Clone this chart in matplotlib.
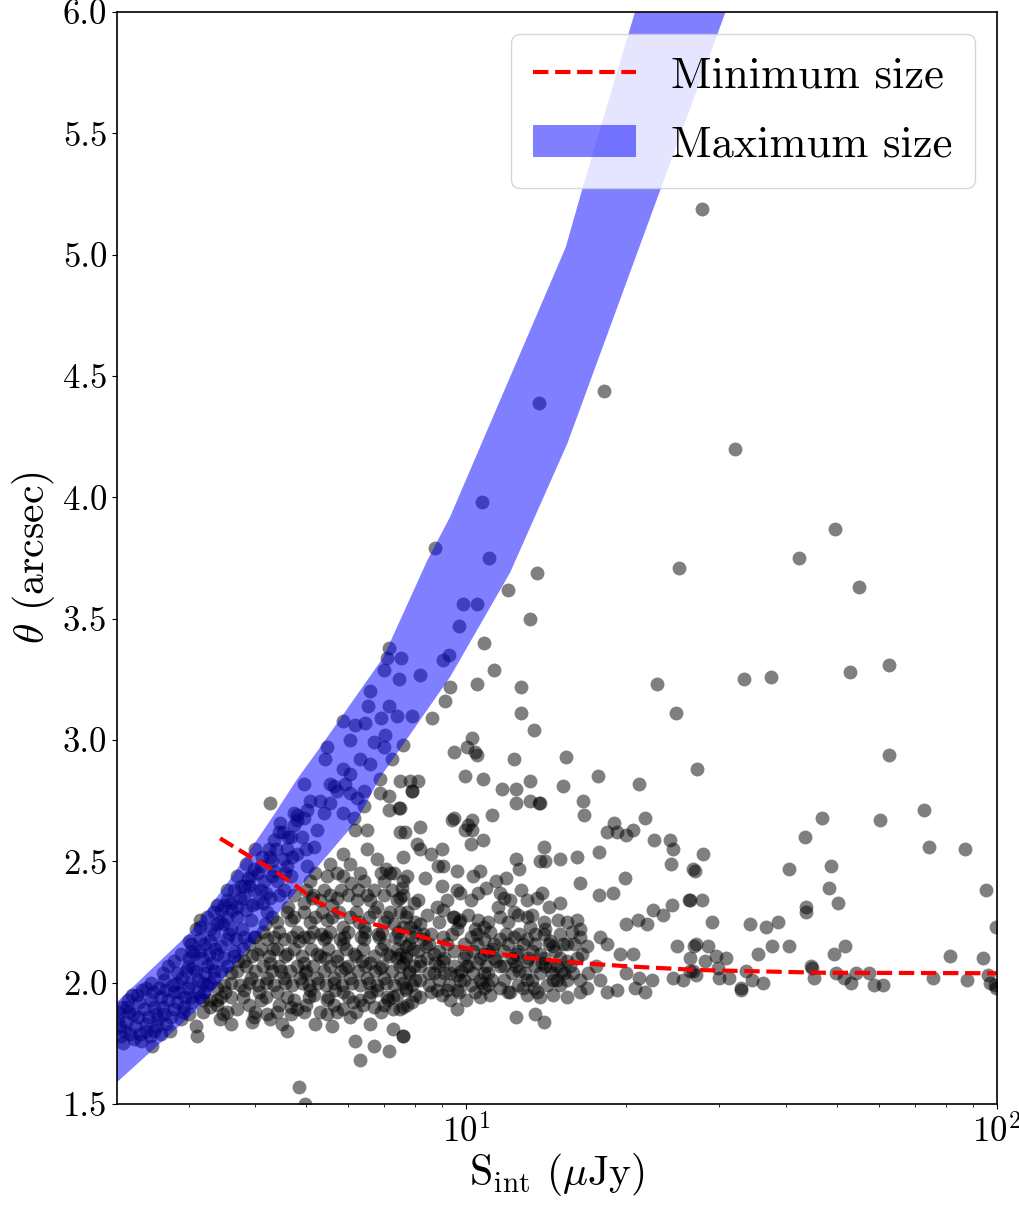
import numpy as np
import matplotlib
matplotlib.use('Agg')
import matplotlib.pyplot as plt
from matplotlib.ticker import NullFormatter, FormatStrFormatter

plt.rcParams['font.family'] = ['cmr10', 'DejaVu Serif']
plt.rcParams['mathtext.fontset'] = 'cm'
plt.rcParams['axes.formatter.use_mathtext'] = True

# sources: (S_int [uJy], theta [arcsec])
pts_sparse = [
    (27.8, 5.19), (18.2, 4.44), (13.7, 4.39), (32.1, 4.20), (10.7, 3.98), (49.5, 3.87),
    (8.72, 3.79), (11.06, 3.75), (13.6, 3.69), (25.2, 3.71), (42.4, 3.75), (54.9, 3.63),
    (9.88, 3.56), (10.5, 3.56), (12.0, 3.62), (9.71, 3.47), (13.2, 3.50), (10.8, 3.40),
    (11.3, 3.29), (10.5, 3.23), (12.7, 3.22), (22.9, 3.23), (33.3, 3.25), (37.5, 3.26),
    (52.8, 3.28), (62.7, 3.31), (12.7, 3.11), (24.9, 3.11), (13.4, 3.04), (10.5, 2.94),
    (10.4, 2.95), (12.3, 2.92), (15.4, 2.93), (27.2, 2.88), (62.7, 2.94), (10.75, 2.84),
    (13.2, 2.83), (15.2, 2.81), (17.7, 2.85), (21.2, 2.82), (11.7, 2.80), (12.4, 2.80),
    (72.8, 2.71), (46.9, 2.68), (60.3, 2.67), (43.4, 2.60), (74.6, 2.56), (87.1, 2.55),
    (27.9, 2.53), (26.7, 2.47), (27.0, 2.46), (40.6, 2.47), (48.7, 2.48), (95.2, 2.38),
    (48.3, 2.39), (50.1, 2.33), (26.4, 2.34), (27.8, 2.34), (43.7, 2.31), (43.6, 2.29),
    (29.0, 2.25), (34.3, 2.24), (36.7, 2.23), (38.6, 2.25), (99.5, 2.23), (27.1, 2.16),
    (28.5, 2.15), (35.4, 2.12), (37.6, 2.15), (40.6, 2.15), (49.4, 2.12), (51.8, 2.15),
    (81.6, 2.11), (94.0, 2.10), (26.4, 2.10), (28.2, 2.09), (29.6, 2.11), (30.8, 2.10),
    (26.4, 2.05), (27.1, 2.03), (29.8, 2.06), (29.9, 2.02), (31.3, 2.02), (33.7, 2.05),
    (34.6, 2.01), (32.9, 1.98), (33.0, 1.97), (36.2, 2.00), (44.6, 2.07), (44.8, 2.06),
    (45.2, 2.02), (49.7, 2.04), (51.4, 2.02), (53.0, 2.00), (54.2, 2.04), (57.4, 2.04),
    (58.7, 1.99), (61.0, 1.99), (75.6, 2.02), (87.9, 2.01), (96.3, 2.03), (97.0, 2.00),
    (99.5, 1.98), (99.0, 1.99),
]

pts_mid = [
    (7.84, 2.83), (8.1, 2.83), (7.9, 2.79), (12.4, 2.74), (13.2, 2.75), (13.7, 2.74),
    (13.8, 2.74), (16.6, 2.75), (16.7, 2.69), (11.2, 2.69), (9.4, 2.67), (7.51, 2.72),
    (8.19, 2.64), (10.1, 2.65), (10.25, 2.63), (9.96, 2.63), (7.68, 2.62), (19.0, 2.66),
    (20.6, 2.63), (21.7, 2.68), (18.4, 2.62), (19.2, 2.62), (20.0, 2.61), (22.6, 2.59),
    (24.2, 2.59), (24.5, 2.55), (10.2, 2.57), (10.75, 2.59), (8.08, 2.57), (8.19, 2.55),
    (9.0, 2.55), (8.6, 2.53), (14.0, 2.56), (17.8, 2.54), (16.2, 2.52), (15.0, 2.51),
    (13.8, 2.50), (14.1, 2.50), (12.4, 2.51), (12.6, 2.47), (10.6, 2.46), (9.6, 2.46),
    (9.05, 2.48), (8.85, 2.48), (7.73, 2.44), (8.37, 2.43), (24.3, 2.49), (19.9, 2.43),
    (16.4, 2.41), (17.8, 2.36), (18.9, 2.37), (12.7, 2.38), (11.4, 2.42), (11.9, 2.43),
    (10.9, 2.39), (9.6, 2.38), (9.74, 2.37), (10.55, 2.37), (11.6, 2.37), (13.9, 2.37),
    (13.6, 2.35), (24.4, 2.32), (26.3, 2.34), (22.5, 2.30), (23.5, 2.28), (21.9, 2.24),
    (21.1, 2.26), (20.0, 2.24), (15.0, 2.33), (14.3, 2.31), (14.9, 2.26), (16.2, 2.26),
    (16.4, 2.22), (14.1, 2.22), (13.3, 2.28), (13.0, 2.27), (12.3, 2.29), (12.5, 2.28),
    (11.6, 2.27), (10.55, 2.26), (10.8, 2.23), (11.1, 2.21), (10.1, 2.28), (9.46, 2.27),
    (9.05, 2.30), (8.8, 2.31), (8.44, 2.28), (7.96, 2.33), (7.51, 2.35), (7.51, 2.29),
    (8.19, 2.24), (9.6, 1.89), (12.4, 1.86), (13.5, 1.87), (14.0, 1.84), (7.6, 1.78),
    (7.51, 1.89), (7.9, 1.92), (17.86, 2.19), (18.4, 2.16), (18.4, 1.96), (19.2, 1.97),
    (21.7, 1.96), (20.8, 1.98), (20.0, 2.04), (21.2, 2.02), (22.4, 2.01), (24.5, 2.02),
    (25.6, 2.01), (26.7, 2.05), (25.0, 2.15), (26.9, 2.15), (19.5, 2.12), (20.6, 2.12),
    (7.97, 2.07), (8.19, 2.09), (8.7, 2.12), (9.33, 2.04), (9.6, 2.03), (9.74, 2.01),
    (10.0, 2.07), (10.5, 2.08), (11.2, 2.01), (11.6, 2.07), (12.1, 1.96), (12.6, 2.05),
    (13.0, 2.01), (13.4, 1.98), (13.8, 2.04), (14.1, 2.07), (14.8, 2.01), (15.5, 2.09),
    (15.9, 2.04), (16.4, 2.01), (16.9, 1.98), (8.8, 1.97), (8.19, 2.01), (7.7, 1.98),
    (7.6, 1.90), (9.05, 2.19), (9.6, 2.22), (10.2, 2.19), (10.8, 2.18), (11.6, 2.18),
    (12.3, 2.19), (13.0, 2.18), (13.8, 2.12), (14.6, 2.15), (15.5, 2.16), (16.4, 2.19),
    (16.9, 2.15), (8.4, 2.15), (7.7, 2.15), (7.5, 2.12), (10.8, 1.98), (9.6, 1.97),
    (10.0, 1.93), (9.33, 1.93), (8.2, 1.94), (13.8, 1.94), (15.5, 1.94), (10.6, 1.94),
    (11.6, 1.98), (11.4, 2.09), (12.3, 2.09), (13.0, 2.09), (8.7, 2.04), (10.8, 2.04),
    (9.05, 2.09), (10.0, 2.12), (10.8, 2.12), (7.84, 2.23), (8.3, 2.20), (9.74, 2.26),
    (14.0, 2.20), (14.8, 2.07), (17.6, 2.07), (17.9, 2.01), (16.4, 1.96),
    # densest part, 8-17 uJy
    (7.8, 2.16), (8.5, 2.16), (9.2, 2.16), (9.9, 2.16), (10.5, 2.16), (11.3, 2.16),
    (12.0, 2.16), (12.8, 2.16), (13.5, 2.16), (14.3, 2.16), (15.2, 2.16), (16.0, 2.16),
    (7.7, 2.10), (8.45, 2.10), (9.1, 2.10), (9.9, 2.10), (10.6, 2.10), (11.3, 2.10),
    (12.2, 2.10), (13.1, 2.10), (14.0, 2.10), (15.0, 2.10), (16.2, 2.10),
    (7.8, 2.04), (8.5, 2.04), (9.1, 2.04), (10.3, 2.04), (11.0, 2.04), (12.2, 2.04),
    (12.9, 2.04), (14.5, 2.04), (15.3, 2.04), (17.0, 2.04),
    (7.9, 1.99), (8.5, 1.99), (9.3, 1.99), (10.2, 1.99), (11.0, 1.99), (12.5, 1.99),
    (14.2, 1.99), (15.0, 1.99), (7.4, 1.95), (8.0, 1.95), (9.0, 1.95), (11.1, 1.95),
    (13.0, 1.95), (14.6, 1.95), (8.0, 2.25), (8.9, 2.25), (9.7, 2.25), (11.0, 2.25),
    (12.0, 2.25), (14.0, 2.25), (15.5, 2.25), (8.1, 2.34), (9.2, 2.34), (10.2, 2.34),
    (12.1, 2.34), (13.0, 2.34),
    (8.6, 2.20), (9.4, 2.20), (10.5, 2.20), (11.9, 2.20), (12.6, 2.20), (13.5, 2.20),
    (15.0, 2.20), (8.1, 2.13), (8.9, 2.13), (9.5, 2.13), (10.3, 2.13), (11.0, 2.13),
    (11.8, 2.13), (12.5, 2.13), (13.3, 2.13), (14.7, 2.13), (8.2, 2.07), (8.9, 2.07),
    (9.5, 2.07), (10.1, 2.07), (10.9, 2.07), (11.8, 2.07), (12.4, 2.07), (13.5, 2.07),
    (14.4, 2.07), (15.7, 2.07), (8.0, 2.01), (8.9, 2.01), (9.9, 2.01), (10.6, 2.01),
    (11.8, 2.01), (13.3, 2.01), (14.6, 2.01), (15.5, 2.01), (8.6, 1.96), (9.7, 1.96),
    (10.4, 1.96), (12.0, 1.96), (13.6, 1.96),
    (8.3, 2.18), (8.75, 2.08), (9.2, 1.97), (9.5, 2.27), (9.8, 2.05), (10.4, 2.22),
    (10.7, 2.00), (11.2, 2.14), (11.5, 2.31), (12.4, 2.12), (12.8, 1.98), (13.2, 2.23),
    (13.9, 2.08), (14.4, 2.17), (15.1, 2.05), (15.8, 2.21), (16.5, 2.12), (9.0, 2.40),
    (10.3, 2.44), (11.8, 2.35),
]

pts_core = [
    (6.18, 2.63), (6.50, 2.63), (6.50, 2.55), (6.79, 2.51), (7.51, 2.62), (7.62, 2.52),
    (7.19, 2.45), (5.87, 2.53), (6.05, 2.49), (5.55, 2.49), (5.09, 2.42), (5.47, 2.44),
    (5.87, 2.44), (6.41, 2.42), (6.99, 2.42), (7.62, 2.42), (4.94, 2.33), (5.31, 2.34),
    (5.71, 2.35), (6.23, 2.34), (6.79, 2.31), (7.40, 2.34), (4.40, 2.25), (4.67, 2.26),
    (5.09, 2.25), (5.47, 2.26), (5.87, 2.23), (6.41, 2.23), (6.99, 2.25), (7.62, 2.23),
    (4.22, 2.18), (4.53, 2.18), (4.94, 2.19), (5.39, 2.18), (5.87, 2.16), (6.41, 2.18),
    (6.99, 2.16), (7.51, 2.18), (3.81, 2.09), (4.04, 2.12), (4.28, 2.08), (4.60, 2.12),
    (4.94, 2.08), (5.24, 2.12), (5.71, 2.09), (6.14, 2.12), (6.60, 2.08), (7.09, 2.12),
    (7.62, 2.08), (3.93, 2.02), (4.22, 2.02), (4.53, 2.02), (4.87, 2.02), (5.24, 2.02),
    (5.63, 2.02), (6.05, 2.02), (6.50, 2.02), (6.99, 2.02), (7.51, 2.02), (3.60, 2.04),
    (3.21, 1.96), (3.40, 1.98), (3.60, 1.94), (3.81, 1.97), (4.10, 1.93), (4.40, 1.96),
    (4.74, 1.93), (5.09, 1.97), (5.47, 1.93), (5.87, 1.96), (6.32, 1.93), (6.79, 1.97),
    (7.29, 1.94), (7.73, 1.91), (3.30, 1.90), (3.70, 1.89), (4.22, 1.87), (4.81, 1.89),
    (5.47, 1.87), (5.87, 1.89), (6.70, 1.90), (7.29, 1.89), (3.44, 1.85), (3.99, 1.86),
    (4.28, 1.85), (4.67, 1.87), (6.05, 1.86), (3.10, 1.82), (3.11, 1.78), (6.18, 1.76),
    (6.70, 1.74), (7.15, 1.72), (6.32, 1.68), (7.60, 1.78), (7.27, 1.81), (4.85, 1.57),
    (4.97, 1.50),
    # further layers of the core, 3.2-8 uJy
    (5.0, 2.38), (5.4, 2.38), (5.8, 2.38), (6.25, 2.38), (6.7, 2.38), (7.25, 2.38),
    (4.6, 2.29), (4.95, 2.29), (5.35, 2.29), (5.75, 2.29), (6.2, 2.29), (6.7, 2.29),
    (7.2, 2.29), (7.75, 2.29), (4.15, 2.21), (4.45, 2.21), (4.8, 2.21), (5.15, 2.21),
    (5.55, 2.21), (6.0, 2.21), (6.45, 2.21), (6.95, 2.21), (7.45, 2.21), (8.0, 2.21),
    (3.8, 2.14), (4.1, 2.14), (4.4, 2.14), (4.75, 2.14), (5.1, 2.14), (5.5, 2.14),
    (5.95, 2.14), (6.4, 2.14), (6.9, 2.14), (7.4, 2.14), (7.95, 2.14),
    (3.45, 2.05), (3.7, 2.05), (4.0, 2.05), (4.3, 2.05), (4.65, 2.05), (5.0, 2.05),
    (5.4, 2.05), (5.8, 2.05), (6.25, 2.05), (6.75, 2.05), (7.25, 2.05), (7.8, 2.05),
    (3.25, 1.99), (3.5, 1.99), (3.75, 1.99), (4.05, 1.99), (4.35, 1.99), (4.7, 1.99),
    (5.05, 1.99), (5.45, 1.99), (5.85, 1.99), (6.3, 1.99), (6.8, 1.99), (7.3, 1.99),
    (3.4, 1.91), (3.9, 1.91), (4.45, 1.91), (5.0, 1.91), (5.65, 1.91), (6.4, 1.91),
    (7.0, 1.91), (3.6, 1.83), (4.5, 1.83), (5.2, 1.83), (6.6, 1.83),
    (5.2, 2.45), (5.7, 2.45), (6.3, 2.45), (6.9, 2.45), (7.3, 2.45),
    (4.75, 2.36), (5.15, 2.36), (5.55, 2.36), (6.0, 2.36), (6.5, 2.36), (7.0, 2.36),
    (7.6, 2.36), (4.3, 2.27), (4.75, 2.27), (5.2, 2.27), (5.6, 2.27), (6.05, 2.27),
    (6.55, 2.27), (7.1, 2.27), (7.7, 2.27), (4.0, 2.19), (4.35, 2.19), (4.7, 2.19),
    (5.05, 2.19), (5.45, 2.19), (5.9, 2.19), (6.35, 2.19), (6.85, 2.19), (7.35, 2.19),
    (7.9, 2.19), (3.65, 2.11), (3.95, 2.11), (4.25, 2.11), (4.55, 2.11), (4.9, 2.11),
    (5.3, 2.11), (5.7, 2.11), (6.2, 2.11), (6.7, 2.11), (7.2, 2.11), (7.7, 2.11),
    (3.55, 2.07), (3.85, 2.07), (4.15, 2.07), (4.45, 2.07), (4.8, 2.07), (5.15, 2.07),
    (5.55, 2.07), (6.0, 2.07), (6.45, 2.07), (6.95, 2.07), (7.5, 2.07),
    (3.3, 2.00), (3.6, 2.00), (3.9, 2.00), (4.2, 2.00), (4.55, 2.00), (4.9, 2.00),
    (5.25, 2.00), (5.65, 2.00), (6.1, 2.00), (6.55, 2.00), (7.05, 2.00), (7.6, 2.00),
    (3.15, 1.94), (3.45, 1.94), (3.8, 1.94), (4.2, 1.94), (4.6, 1.94), (5.05, 1.94),
    (5.5, 1.94), (6.0, 1.94), (6.55, 1.94), (7.1, 1.94), (3.2, 1.88), (3.55, 1.88),
    (4.0, 1.88), (4.4, 1.88), (4.95, 1.88), (5.3, 1.88), (5.7, 1.88), (6.2, 1.88),
    (6.9, 1.88),
    (3.35, 2.02), (3.52, 1.96), (3.72, 2.09), (3.90, 2.16), (4.08, 1.96), (4.18, 2.24),
    (4.32, 2.14), (4.48, 2.05), (4.62, 2.31), (4.68, 1.90), (4.85, 2.17), (4.98, 2.04),
    (5.12, 2.35), (5.18, 1.95), (5.32, 2.20), (5.42, 2.10), (5.58, 2.32), (5.66, 1.97),
    (5.78, 2.18), (5.92, 2.06), (6.08, 2.41), (6.12, 1.92), (6.28, 2.25), (6.38, 2.09),
    (6.58, 2.34), (6.62, 1.96), (6.82, 2.20), (6.88, 2.06), (7.05, 2.47), (7.12, 1.93),
    (7.32, 2.24), (7.42, 2.10), (7.58, 2.39), (7.70, 1.97), (3.95, 1.84), (4.60, 1.80),
    (5.60, 1.82), (3.30, 1.93), (3.48, 1.87),
]

pts_band = [
    (2.23, 1.82), (2.33, 1.79), (2.44, 1.76), (2.56, 1.74), (2.26, 1.75), (2.36, 1.87),
    (2.47, 1.89), (2.58, 1.90), (2.70, 1.87), (2.82, 1.89), (2.94, 1.90), (2.49, 1.98),
    (2.66, 1.94), (2.70, 2.01), (2.86, 2.04), (2.82, 2.09), (2.99, 2.07), (3.07, 2.12),
    (3.03, 2.16), (3.21, 2.16), (3.16, 2.26), (3.30, 2.22), (3.44, 2.25), (3.35, 2.29),
    (3.54, 2.27), (3.54, 2.34), (3.70, 2.31), (3.76, 2.40), (3.81, 2.35), (3.99, 2.38),
    (3.93, 2.44), (4.16, 2.42), (4.10, 2.48), (4.34, 2.46), (4.28, 2.52), (4.53, 2.51),
    (4.34, 2.59), (4.67, 2.60), (4.47, 2.66), (4.81, 2.67), (5.01, 2.71), (4.74, 2.70),
    (5.24, 2.63), (5.39, 2.70), (5.09, 2.75), (5.55, 2.74), (5.71, 2.79), (6.05, 2.78),
    (4.94, 2.82), (5.55, 2.82), (6.41, 2.79), (5.87, 2.70), (6.14, 2.68), (5.16, 2.56),
    (4.81, 2.53), (5.01, 2.48), (4.67, 2.44), (4.04, 2.33), (4.28, 2.35), (4.53, 2.38),
    (4.22, 2.29), (3.93, 2.26), (3.81, 2.19), (3.99, 2.19), (3.54, 2.18), (3.40, 2.12),
    (3.25, 2.07), (3.12, 2.01), (2.99, 1.98), (2.82, 1.96), (3.03, 1.94), (3.16, 2.23),
    (4.27, 2.74), (7.15, 3.38), (7.09, 3.34), (7.53, 3.34), (7.01, 3.29), (7.47, 3.25),
    (8.19, 3.27), (9.06, 3.33), (9.30, 3.35), (6.60, 3.20), (9.33, 3.22), (9.13, 3.16),
    (6.53, 3.14), (7.16, 3.14), (5.87, 3.08), (6.18, 3.06), (6.44, 3.07), (6.92, 3.09),
    (7.40, 3.10), (7.90, 3.10), (8.61, 3.09), (6.05, 3.00), (6.70, 2.99), (7.04, 3.02),
    (7.62, 2.98), (5.47, 2.97), (9.47, 2.95), (10.25, 3.01), (10.03, 2.97), (5.43, 2.92),
    (6.99, 2.97), (7.24, 2.92), (6.30, 2.92), (6.60, 2.90), (5.87, 2.88), (6.05, 2.86),
    (6.89, 2.84), (7.51, 2.83), (9.96, 2.85), (5.63, 2.81), (5.91, 2.82), (7.90, 2.79),
    (5.31, 2.75), (6.23, 2.76), (6.87, 2.78), (7.17, 2.77), (7.49, 2.72), (7.15, 2.71),
    (6.41, 2.73), (4.81, 2.69), (9.47, 2.68), (10.25, 2.67),
    # crowded lower end of the band
    (2.21, 1.85), (2.29, 1.84), (2.38, 1.82), (2.50, 1.83), (2.62, 1.82), (2.25, 1.90),
    (2.31, 1.93), (2.40, 1.95), (2.52, 1.86), (2.64, 1.98), (2.75, 1.93), (2.88, 1.96),
    (2.92, 2.02), (3.00, 2.10), (3.10, 2.05), (3.15, 2.18), (3.28, 2.12), (3.35, 2.20),
    (3.45, 2.30), (3.60, 2.22), (3.65, 2.38), (3.70, 2.27), (3.85, 2.30), (3.90, 2.40),
    (4.05, 2.45), (4.20, 2.37), (4.25, 2.55), (4.40, 2.42), (4.45, 2.62), (4.60, 2.55),
    (4.60, 2.48), (4.90, 2.60), (5.00, 2.55), (2.58, 1.80), (2.72, 1.83), (2.90, 1.85),
    (3.05, 1.92), (3.00, 1.87), (3.20, 2.00), (3.35, 2.05), (3.50, 2.10), (3.65, 2.13),
    (3.40, 1.93), (2.35, 1.95), (2.45, 1.97), (2.55, 2.00), (2.68, 2.04), (2.75, 2.07),
    (2.90, 2.12), (3.00, 2.17), (3.10, 2.22), (3.25, 2.27), (3.40, 2.32), (3.55, 2.38),
    (3.70, 2.44), (3.85, 2.49), (4.00, 2.55),
    (2.22, 1.88), (2.27, 1.80), (2.32, 1.88), (2.41, 1.86), (2.43, 1.79), (2.54, 1.78),
    (2.55, 1.93), (2.60, 1.87), (2.66, 1.79), (2.68, 1.90), (2.78, 1.86), (2.80, 1.99),
    (2.85, 1.92), (2.95, 1.94), (2.97, 2.05), (3.02, 2.00), (3.05, 2.13), (3.12, 1.96),
    (3.18, 2.10), (3.22, 2.04), (3.30, 2.17), (3.32, 2.08), (3.40, 2.24), (3.46, 2.15),
    (3.50, 2.32), (3.58, 2.20), (3.63, 2.30), (3.75, 2.35), (3.78, 2.22), (3.88, 2.43),
    (3.95, 2.32), (4.10, 2.38), (4.12, 2.52), (4.30, 2.44), (4.38, 2.55), (4.52, 2.62),
    (4.55, 2.45), (4.70, 2.52), (4.75, 2.65), (4.95, 2.68),
    (2.24, 1.78), (2.30, 1.90), (2.37, 1.77), (2.42, 1.92), (2.50, 1.80), (2.57, 1.96),
    (2.63, 1.85), (2.72, 1.97), (2.77, 1.80), (2.86, 2.00), (2.93, 1.88), (3.06, 2.06),
    (3.15, 2.13), (3.20, 1.93), (3.36, 2.14), (3.48, 2.24), (3.60, 2.33), (3.68, 2.18),
    (3.82, 2.40), (3.98, 2.47), (4.15, 2.33), (4.30, 2.50), (4.45, 2.36), (4.62, 2.60),
]

# maximum size band (left/upper edge and right/lower edge)
max_hi_s = [2.20, 3.03, 3.55, 4.28, 4.81, 5.31, 6.98, 8.45, 9.33, 15.4, 16.6, 20.8]
max_hi_t = [1.92, 2.21, 2.41, 2.67, 2.84, 2.97, 3.34, 3.74, 3.92, 5.03, 5.28, 6.00]
max_lo_s = [2.20, 3.12, 4.81, 6.24, 6.86, 9.33, 12.1, 15.5, 30.8]
max_lo_t = [1.59, 1.89, 2.38, 2.67, 2.84, 3.26, 3.69, 4.22, 6.00]

# minimum size curve
min_s = [3.44, 3.92, 4.34, 4.80, 5.24, 5.79, 6.41, 7.85, 9.07, 10.78, 13.38, 16.62,
         20.65, 27.56, 47.0, 100.0]
min_t = [2.595, 2.519, 2.464, 2.396, 2.334, 2.286, 2.251, 2.204, 2.162, 2.128, 2.100,
         2.080, 2.066, 2.052, 2.041, 2.039]

pts = np.array(pts_sparse + pts_mid + pts_core + pts_band)

fig = plt.figure(figsize=(10.2, 12.05), dpi=100)
ax = fig.add_axes([0.1147, 0.0838, 0.8628, 0.9062])

ax.scatter(pts[:, 0], pts[:, 1], s=100, c='k', alpha=0.5, linewidths=0)
ax.fill(np.r_[max_hi_s, max_lo_s[::-1]], np.r_[max_hi_t, max_lo_t[::-1]],
        color='b', alpha=0.5, lw=0, label='Maximum size')
ax.plot(min_s, min_t, 'r--', lw=3, label='Minimum size')

ax.set_xscale('log')
ax.set_xlim(2.2, 100)
ax.set_ylim(1.5, 6.0)
ax.set_yticks(np.arange(1.5, 6.01, 0.5))
ax.yaxis.set_major_formatter(FormatStrFormatter('%.1f'))
ax.xaxis.set_minor_formatter(NullFormatter())
ax.tick_params(labelsize=25)
for sp in ax.spines.values():
    sp.set_linewidth(1.2)

ax.set_xlabel(r'S$_{\rm int}$ ($\mu$Jy)', fontsize=30, labelpad=2)
ax.set_ylabel(r'$\theta$ (arcsec)', fontsize=30)

h, l = ax.get_legend_handles_labels()
ax.legend(h[::-1], l[::-1], loc='upper right', fontsize=32,
          handlelength=2.3, labelspacing=0.65, borderpad=0.5)

fig.savefig('out.png', dpi=100)
